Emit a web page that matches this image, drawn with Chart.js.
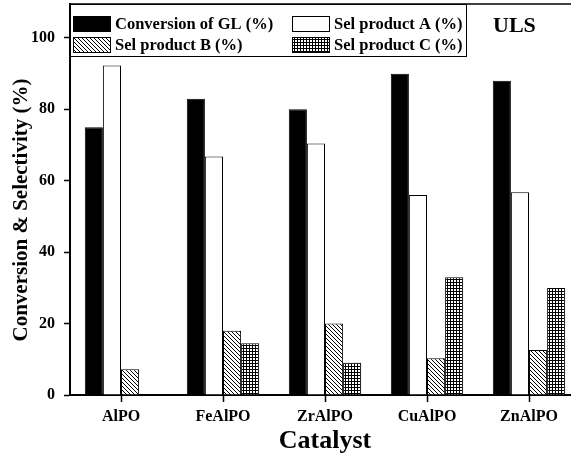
<!DOCTYPE html>
<html>
<head>
<meta charset="utf-8">
<script src="https://cdn.jsdelivr.net/npm/chart.js@4"></script>
<style>
  html, body { margin: 0; padding: 0; background: #fff; overflow: hidden; }
  #wrap { width: 582px; height: 454px; }
</style>
</head>
<body>
<div id="wrap"><canvas id="chart" width="582" height="454"></canvas></div>
<script>
const CATALYSTS = ['AlPO', 'FeAlPO', 'ZrAlPO', 'CuAlPO', 'ZnAlPO'];
const CONVERSION_GL = [75, 83, 80, 90, 88];
const SEL_A = [92.3, 66.8, 70.4, 56, 56.8];
const SEL_B = [7.2, 18, 20, 10.3, 12.6];
const SEL_C = [null, 14.5, 9, 33, 30];
const Y_TICKS = [0, 20, 40, 60, 80, 100];

const SERIF = '"Liberation Serif", "Times New Roman", serif';

function makePattern(kind) {
  const c = document.createElement('canvas');
  const size = kind === 'diag' ? 4 : 3;
  c.width = size; c.height = size;
  const g = c.getContext('2d');
  g.fillStyle = '#fff';
  g.fillRect(0, 0, size, size);
  g.fillStyle = '#000';
  if (kind === 'diag') {
    // "\" lines, one pixel per row
    for (let i = 0; i < size; i++) g.fillRect(i, i, 1, 1);
  } else {
    g.fillRect(0, 0, size, 1);
    g.fillRect(0, 0, 1, size);
  }
  return g.createPattern(c, 'repeat');
}

const hatchB = makePattern('diag');
const gridC = makePattern('grid');

const framePlugin = {
  id: 'frame',
  afterDraw(chart) {
    const { ctx, chartArea: a } = chart;
    ctx.save();
    ctx.strokeStyle = '#000';
    ctx.lineWidth = 1.5;
    ctx.beginPath();
    ctx.moveTo(a.left, a.top);
    ctx.lineTo(a.right, a.top);
    ctx.stroke();

    // y axis title, placed a bit lower than the scale would put it
    ctx.fillStyle = '#000';
    ctx.font = 'bold 21px ' + SERIF;
    ctx.textAlign = 'center';
    ctx.textBaseline = 'middle';
    ctx.translate(22, 210);
    ctx.rotate(-Math.PI / 2);
    ctx.fillText('Conversion & Selectivity (%)', 0, 0);
    ctx.setTransform(1, 0, 0, 1, 0, 0);

    // legend box
    const lx = 70, ly = 4, lw = 396, lh = 52;
    ctx.fillStyle = '#fff';
    ctx.fillRect(lx, ly, lw, lh);
    ctx.lineWidth = 1;
    ctx.strokeRect(lx + 0.5, ly + 0.5, lw, lh);
    const items = chart.data.datasets;
    const cols = [73, 292];
    const rows = [16, 37];
    ctx.font = 'bold 16.5px ' + SERIF;
    ctx.textAlign = 'left';
    items.forEach((ds, i) => {
      const x = cols[i % 2], y = rows[Math.floor(i / 2)];
      ctx.fillStyle = ds.backgroundColor;
      ctx.fillRect(x, y, 38, 16);
      ctx.strokeStyle = '#000';
      ctx.strokeRect(x + 0.5, y + 0.5, 37, 15);
      ctx.fillStyle = '#000';
      ctx.fillText(ds.label, x + 42, y + 9);
    });

    ctx.font = 'bold 22px ' + SERIF;
    ctx.fillText('ULS', 493, 26);
    ctx.restore();
  }
};

new Chart(document.getElementById('chart'), {
  type: 'bar',
  data: {
    labels: CATALYSTS,
    datasets: [
      { label: 'Conversion of GL (%)', data: CONVERSION_GL, backgroundColor: '#000' },
      { label: 'Sel product A (%)', data: SEL_A, backgroundColor: '#fff' },
      { label: 'Sel product B (%)', data: SEL_B, backgroundColor: hatchB },
      { label: 'Sel product C (%)', data: SEL_C, backgroundColor: gridC },
    ].map(d => Object.assign(d, {
      borderColor: '#000',
      borderWidth: 1,
      categoryPercentage: 0.71,
      barPercentage: 1,
    }))
  },
  options: {
    responsive: false,
    animation: false,
    layout: { padding: { top: 4, right: 2, left: 0, bottom: 0 } },
    plugins: {
      legend: { display: false },
      tooltip: { enabled: false },
    },
    scales: {
      x: {
        grid: { offset: false, drawOnChartArea: false, tickLength: 7, tickColor: '#000', tickWidth: 1.5 },
        border: { color: '#000', width: 2 },
        ticks: { color: '#000', padding: 5, font: { family: SERIF, size: 16, weight: 'bold' } },
        title: {
          display: true, text: 'Catalyst', color: '#000',
          font: { family: SERIF, size: 26, weight: 'bold', lineHeight: 1 },
          padding: { top: 0, bottom: 0 }
        },
        afterFit(scale) {
          scale.height = 59;
          scale.paddingLeft = 0;
          scale.paddingRight = 0;
        }
      },
      y: {
        min: 0,
        max: 109.5,
        afterBuildTicks(scale) { scale.ticks = Y_TICKS.map(v => ({ value: v })); },
        grid: { drawOnChartArea: false, tickLength: 6, tickColor: '#000', tickWidth: 1.5 },
        border: { color: '#000', width: 2 },
        ticks: { color: '#000', padding: 9, font: { family: SERIF, size: 16, weight: 'bold' } },
        afterFit(scale) {
          scale.width = 70;
          scale.paddingTop = 0;
          scale.paddingBottom = 0;
        }
      }
    }
  },
  plugins: [framePlugin]
});
</script>
</body>
</html>
